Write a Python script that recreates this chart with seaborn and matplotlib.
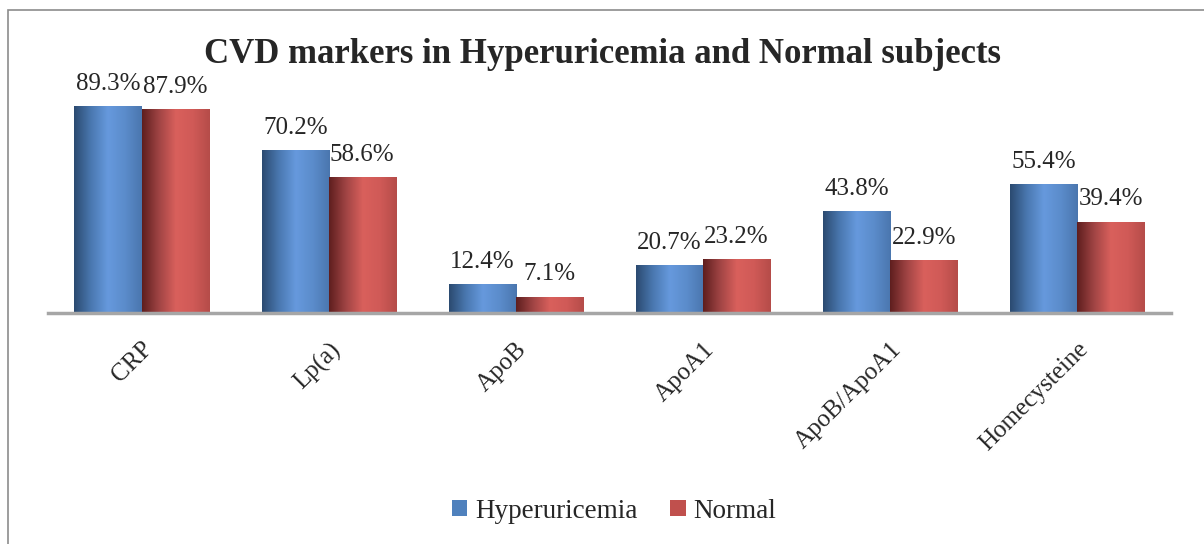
import numpy as np
import pandas as pd
import seaborn as sns
import matplotlib.pyplot as plt
from matplotlib.patches import Rectangle, Patch
from matplotlib.colors import LinearSegmentedColormap

# data
markers = ['CRP', 'Lp(a)', 'ApoB', 'ApoA1', 'ApoB/ApoA1', 'Homecysteine']
hyperuricemia = [89.3, 70.2, 12.4, 20.7, 43.8, 55.4]
normal = [87.9, 58.6, 7.1, 23.2, 22.9, 39.4]
groups = ['Hyperuricemia', 'Normal']
colors = ['#4F81BD', '#C0504D']

df = pd.DataFrame({
    'marker': markers * 2,
    'value': hyperuricemia + normal,
    'group': [groups[0]] * len(markers) + [groups[1]] * len(markers),
})

sns.set_style('white')
plt.rcParams['font.family'] = ['Liberation Serif', 'DejaVu Serif']

fig = plt.figure(figsize=(12.04, 5.44), dpi=100)
ax = fig.add_axes([48 / 1204, 1 - 313 / 544, 1123 / 1204, 232 / 544])

sns.barplot(data=df, x='marker', y='value', hue='group', palette=colors,
            width=0.717, saturation=1, linewidth=0, ax=ax, legend=False)

ax.set_xlabel('')
ax.set_ylabel('')
ax.set_yticks([])
for s in ['top', 'right', 'left']:
    ax.spines[s].set_visible(False)
ax.spines['bottom'].set_color('#a6a6a6')
ax.spines['bottom'].set_linewidth(2.5)
ax.tick_params(axis='x', length=0, pad=18, labelsize=18)
plt.setp(ax.get_xticklabels(), rotation=45, ha='right', rotation_mode='anchor')

# cylinder-like shading on every bar
cmaps = {
    colors[0]: LinearSegmentedColormap.from_list('b', ['#2B4A70', '#4A78B0', '#6699DD', '#5B8CCB', '#4A76AE']),
    colors[1]: LinearSegmentedColormap.from_list('r', ['#5E1E1E', '#A04444', '#D9605C', '#D05A57', '#B54C49']),
}
grad = np.linspace(0, 1, 256).reshape(1, -1)
bars = [p for p in ax.patches if p.get_height() > 0]
for i, p in enumerate(bars):
    x0, w, h = p.get_x(), p.get_width(), p.get_height()
    fc = colors[0] if i < len(markers) else colors[1]
    im = ax.imshow(grad, cmap=cmaps[fc], extent=[x0, x0 + w, 0, h],
                   aspect='auto', zorder=p.get_zorder() + 0.1)
    im.set_clip_path(p)
    ax.annotate(f'{h:.1f}%', (x0 + w / 2, h), xytext=(0, 8),
                textcoords='offset points', ha='center', va='bottom', fontsize=18)
ax.set_xlim(-0.5, 5.5)
ax.set_ylim(0, 100)

fig.suptitle('CVD markers in Hyperuricemia and Normal subjects',
             fontsize=25, fontweight='bold', x=0.5, y=1 - 38 / 544, va='top')

handles = [Patch(facecolor=c, edgecolor='none') for c in colors]
fig.legend(handles, groups, loc='center', bbox_to_anchor=(614 / 1204, 1 - 511 / 544),
           ncol=2, frameon=False, fontsize=19.5, handlelength=0.57, handleheight=0.57,
           handletextpad=0.3, columnspacing=1.2)

fig.add_artist(Rectangle((8 / 1204, -0.05), 1.1, 1 - 10 / 544 + 0.05,
                         transform=fig.transFigure, fill=False,
                         edgecolor='#8c8c8c', linewidth=1.2))

fig.savefig('out.png', dpi=100)
